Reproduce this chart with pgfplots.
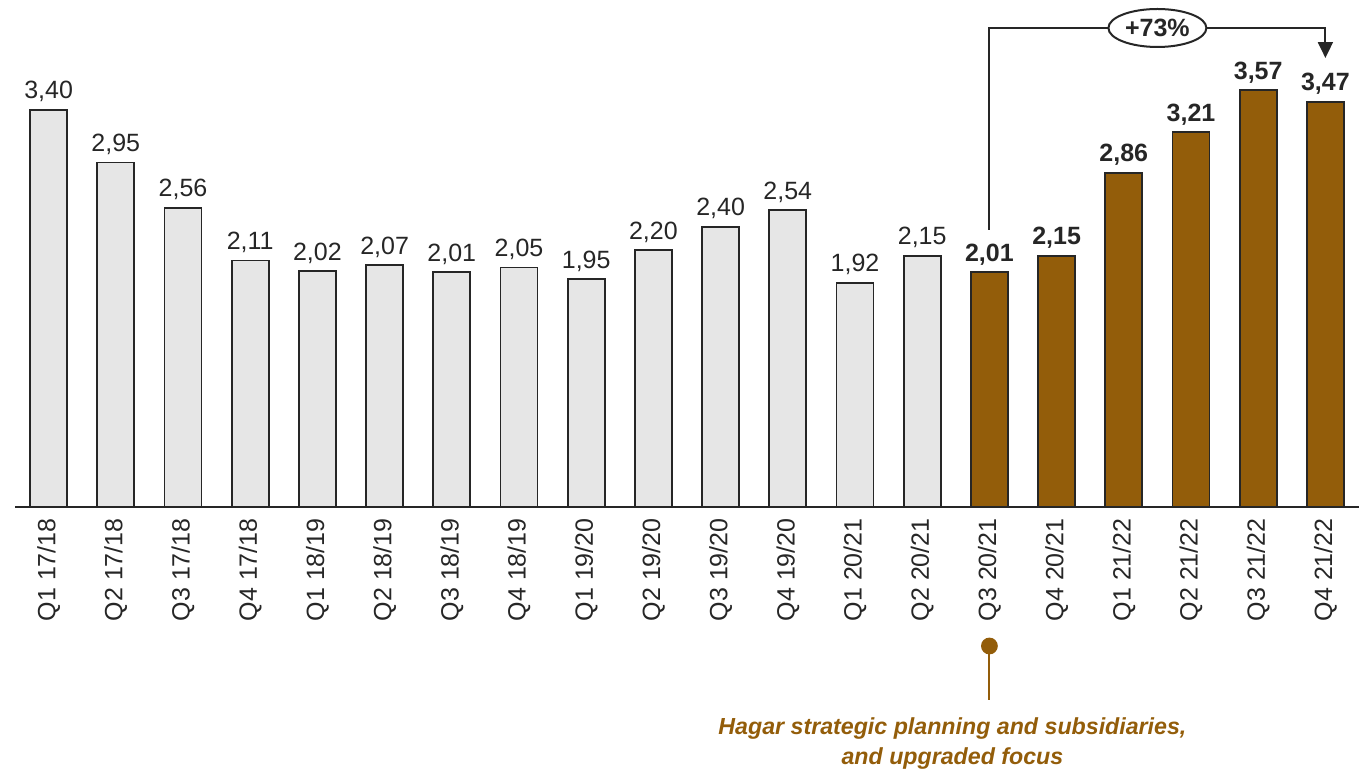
\documentclass[border=0pt]{standalone}
\usepackage{pgfplots}
\pgfplotsset{compat=1.18}
\usepackage{fontspec}
\setmainfont{Liberation Sans}
\usetikzlibrary{arrows.meta,shapes.geometric}
\definecolor{barbrown}{HTML}{935D0A}
\definecolor{bargray}{HTML}{E6E6E6}
\definecolor{edge}{HTML}{262626}
\newcommand{\lblfont}{\fontsize{12.5}{15}\selectfont}
\begin{document}
\begin{tikzpicture}
\useasboundingbox (-7.5pt,-133.5pt) rectangle (674.5pt,253.5pt);
\begin{axis}[
  at={(0,0)}, anchor=south west, scale only axis,
  width=672pt, height=253.5pt,
  xmin=-0.5, xmax=19.5, ymin=0, ymax=4.3408,
  axis x line*=bottom, axis y line=none,
  x axis line style={edge, line width=1pt, -},
  xtick={0,...,19},
  xticklabels={Q1 17/18,Q2 17/18,Q3 17/18,Q4 17/18,Q1 18/19,Q2 18/19,Q3 18/19,Q4 18/19,Q1 19/20,Q2 19/20,Q3 19/20,Q4 19/20,Q1 20/21,Q2 20/21,Q3 20/21,Q4 20/21,Q1 21/22,Q2 21/22,Q3 21/22,Q4 21/22},
  major tick length=0pt,
  xticklabel style={rotate=90, anchor=east, font=\lblfont, text=edge, inner xsep=5.5pt, inner ysep=0pt},
  clip=false,
  ybar, bar width=18.5pt,
  nodes near coords={\pgfmathprintnumber[fixed,fixed zerofill,precision=2,use comma,assume math mode=true]{\pgfplotspointmeta}},
  every node near coord/.append style={anchor=base, yshift=5.5pt, inner sep=0pt, text=edge},
]
\addplot[bar shift=0pt, fill=bargray, draw=edge, line width=0.9pt,
  every node near coord/.append style={font=\lblfont}]
  coordinates {(0,3.40) (1,2.95) (2,2.56) (3,2.11) (4,2.02) (5,2.07) (6,2.01) (7,2.05) (8,1.95) (9,2.20) (10,2.40) (11,2.54) (12,1.92) (13,2.15)};
\addplot[bar shift=0pt, fill=barbrown, draw=edge, line width=0.9pt,
  every node near coord/.append style={font=\lblfont\bfseries}]
  coordinates {(14,2.01) (15,2.15) (16,2.86) (17,3.21) (18,3.57) (19,3.47)};
% +73% bracket
\draw[edge, line width=1pt, -{Triangle[width=7.5pt,length=8pt]}]
  (axis cs:14,2.372) -- (axis cs:14,4.101) -- (axis cs:19,4.101) -- (axis cs:19,3.844);
\node[draw=edge, line width=1pt, fill=white, ellipse, minimum width=49pt, minimum height=19pt, inner sep=1pt, font=\lblfont\bfseries, text=edge]
  at (axis cs:16.5,4.101) {+73\%};
% bottom annotation
\draw[barbrown, line width=1pt] (axis cs:14,-1.19) -- (axis cs:14,-1.652);
\fill[barbrown] (axis cs:14,-1.19) circle (4.2pt);
\node[align=center, font=\fontsize{11.6}{15}\selectfont\bfseries\itshape, text=barbrown, inner sep=0pt]
  at (axis cs:13.45,-2.021) {Hagar strategic planning and subsidiaries,\\and upgraded focus};
\end{axis}
\end{tikzpicture}
\end{document}
